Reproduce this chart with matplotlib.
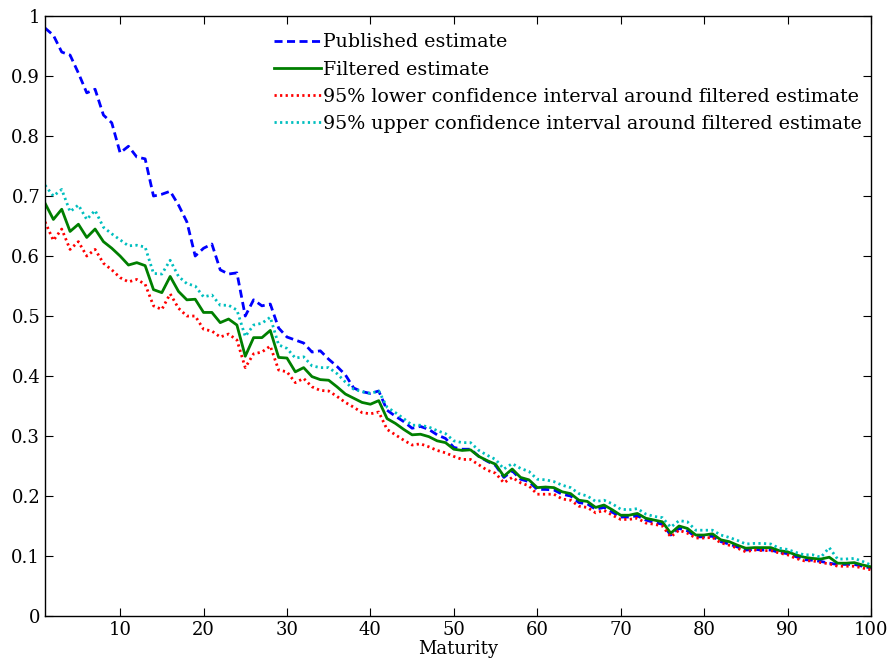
import numpy as np
import matplotlib
matplotlib.use('Agg')
import matplotlib.pyplot as plt

# maturity grid 1..100
maturity = list(range(1, 101))

published = [0.980, 0.968, 0.940, 0.935, 0.905, 0.872, 0.878, 0.835, 0.822, 0.772,
             0.783, 0.765, 0.762, 0.700, 0.703, 0.708, 0.685, 0.657, 0.600, 0.613,
             0.620, 0.577, 0.570, 0.572, 0.500, 0.527, 0.517, 0.520, 0.480, 0.465,
             0.460, 0.455, 0.440, 0.442, 0.428, 0.416, 0.402, 0.380, 0.374, 0.371,
             0.375, 0.343, 0.333, 0.324, 0.313, 0.316, 0.311, 0.302, 0.296,
             0.281, 0.278, 0.278, 0.266, 0.258, 0.251, 0.231, 0.242, 0.228, 0.224,
             0.211, 0.211, 0.210, 0.203, 0.200, 0.189, 0.187, 0.178, 0.181, 0.173,
             0.165, 0.165, 0.167, 0.160, 0.156, 0.153, 0.135, 0.146, 0.142, 0.132,
             0.132, 0.133, 0.124, 0.120, 0.115, 0.110, 0.111, 0.110, 0.110, 0.106,
             0.104, 0.099, 0.094, 0.093, 0.091, 0.088, 0.086, 0.086, 0.086, 0.083, 0.080]

filtered = [0.688, 0.661, 0.678, 0.641, 0.653, 0.631, 0.645, 0.624, 0.613, 0.600,
            0.585, 0.589, 0.584, 0.544, 0.539, 0.566, 0.541, 0.527, 0.528, 0.506,
            0.506, 0.489, 0.495, 0.485, 0.433, 0.464, 0.464, 0.476, 0.431, 0.430,
            0.407, 0.414, 0.399, 0.394, 0.393, 0.382, 0.370, 0.363, 0.356, 0.353,
            0.359, 0.329, 0.321, 0.311, 0.302, 0.303, 0.299, 0.292, 0.289,
            0.278, 0.276, 0.277, 0.266, 0.259, 0.253, 0.233, 0.245, 0.231, 0.227,
            0.214, 0.215, 0.214, 0.207, 0.204, 0.193, 0.191, 0.181, 0.185, 0.177,
            0.168, 0.168, 0.171, 0.163, 0.160, 0.157, 0.138, 0.150, 0.146, 0.135,
            0.135, 0.137, 0.127, 0.124, 0.118, 0.113, 0.114, 0.114, 0.114, 0.109,
            0.107, 0.102, 0.098, 0.096, 0.095, 0.098, 0.088, 0.088, 0.089, 0.085, 0.082]

lower95 = [0.657, 0.626, 0.645, 0.611, 0.624, 0.600, 0.611, 0.588, 0.577, 0.564,
           0.557, 0.561, 0.553, 0.517, 0.511, 0.537, 0.513, 0.500, 0.500, 0.478,
           0.475, 0.465, 0.470, 0.460, 0.414, 0.437, 0.440, 0.450, 0.410, 0.407,
           0.389, 0.396, 0.382, 0.376, 0.375, 0.366, 0.356, 0.348, 0.339, 0.337,
           0.340, 0.311, 0.302, 0.293, 0.285, 0.287, 0.282, 0.276, 0.272,
           0.266, 0.261, 0.261, 0.252, 0.243, 0.238, 0.222, 0.231, 0.222, 0.217,
           0.203, 0.203, 0.203, 0.195, 0.193, 0.183, 0.181, 0.172, 0.176, 0.168,
           0.161, 0.161, 0.163, 0.155, 0.153, 0.150, 0.132, 0.143, 0.138, 0.130,
           0.130, 0.131, 0.122, 0.118, 0.113, 0.107, 0.110, 0.109, 0.109, 0.105,
           0.102, 0.096, 0.092, 0.092, 0.089, 0.087, 0.083, 0.083, 0.083, 0.080, 0.077]

upper95 = [0.718, 0.700, 0.711, 0.674, 0.685, 0.661, 0.676, 0.648, 0.637, 0.627,
           0.617, 0.618, 0.615, 0.571, 0.570, 0.593, 0.566, 0.554, 0.550, 0.532,
           0.535, 0.518, 0.518, 0.510, 0.466, 0.485, 0.488, 0.498, 0.452, 0.446,
           0.430, 0.432, 0.417, 0.414, 0.414, 0.404, 0.390, 0.378, 0.374, 0.371,
           0.375, 0.348, 0.339, 0.329, 0.318, 0.318, 0.315, 0.309, 0.304,
           0.292, 0.289, 0.289, 0.276, 0.268, 0.261, 0.245, 0.254, 0.246, 0.241,
           0.228, 0.227, 0.224, 0.218, 0.214, 0.204, 0.200, 0.191, 0.193, 0.187,
           0.178, 0.177, 0.179, 0.170, 0.166, 0.164, 0.148, 0.159, 0.157, 0.143,
           0.143, 0.143, 0.135, 0.131, 0.126, 0.120, 0.121, 0.121, 0.120, 0.113,
           0.111, 0.106, 0.102, 0.102, 0.098, 0.114, 0.095, 0.095, 0.096, 0.091, 0.085]

labels = ['Published estimate', 'Filtered estimate',
          '95% lower confidence interval around filtered estimate',
          '95% upper confidence interval around filtered estimate']

plt.rcParams['font.family'] = ['DejaVu Serif']
plt.rcParams['font.size'] = 13

fig = plt.figure(figsize=(8.9, 6.69), dpi=100)
ax = fig.add_axes([0.0506, 0.0792, 0.928, 0.8968])

ax.plot(maturity, published, color='#0000ff', lw=2.0, linestyle=(0, (2.9, 1.6)), label=labels[0])
ax.plot(maturity, filtered, color='#007f00', lw=2.0, linestyle='-', label=labels[1])
ax.plot(maturity, lower95, color='#ff0000', lw=2.0, linestyle=(0, (0.8, 1.2)), label=labels[2])
ax.plot(maturity, upper95, color='#00bfbf', lw=2.0, linestyle=(0, (0.8, 1.2)), label=labels[3])

ax.set_xlim(1, 100)
ax.set_ylim(0, 1)
ax.set_xticks(np.arange(10, 101, 10))
ax.set_yticks(np.arange(0, 1.01, 0.1))
ax.set_yticklabels(['0', '0.1', '0.2', '0.3', '0.4', '0.5', '0.6', '0.7', '0.8', '0.9', '1'])
ax.tick_params(direction='in', length=6, width=0.8, top=True, right=True, labelsize=13)
for s in ax.spines.values():
    s.set_linewidth(1.0)
ax.set_xlabel('Maturity', fontsize=13, labelpad=1)

leg = ax.legend(loc='upper left', bbox_to_anchor=(0.264, 0.99), frameon=False,
                handlelength=2.45, handletextpad=0.12, labelspacing=0.48,
                borderaxespad=0.2, fontsize=13.7)

fig.savefig('out.png', dpi=100)
